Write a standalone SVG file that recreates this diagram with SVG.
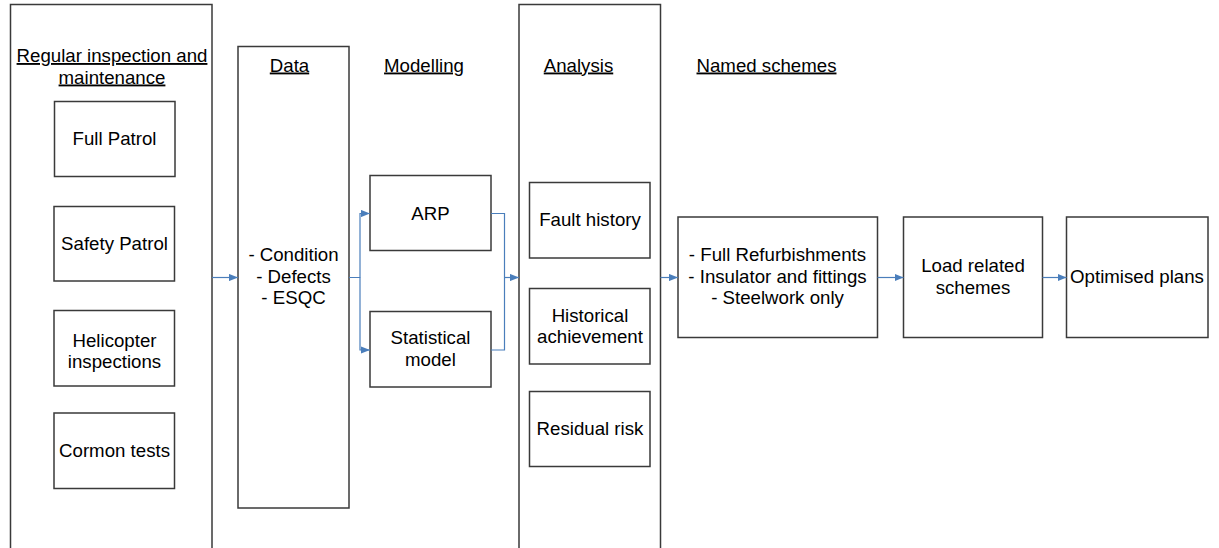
<svg xmlns="http://www.w3.org/2000/svg" width="1219" height="548" viewBox="0 0 1219 548">
<style>
.box{fill:#fff;stroke:#3a3a3a;stroke-width:1.5}
.t{font-family:"Liberation Sans",Arial,sans-serif;font-size:18.67px;fill:#000;text-anchor:middle}
.h{text-decoration:underline}
.c{fill:none;stroke:#4A7EBB;stroke-width:1.2}
</style>
<defs>
<marker id="ah" viewBox="0 0 10 8" refX="10" refY="4" markerWidth="9" markerHeight="7.2" markerUnits="userSpaceOnUse" orient="auto">
<path d="M0,0 L10,4 L0,8 z" fill="#4A7EBB"/>
</marker>
</defs>
<rect width="1219" height="548" fill="#fff"/>
<g id="regular">
<rect class="box" x="10.5" y="4.5" width="201.5" height="560"/>
<text class="t h" x="112" y="62">Regular inspection and</text>
<text class="t h" x="112" y="83.5">maintenance</text>
</g>
<g id="full-patrol">
<rect class="box" x="54.5" y="101.5" width="120.5" height="75"/>
<text class="t" x="114.5" y="145">Full Patrol</text>
</g>
<g id="safety-patrol">
<rect class="box" x="54" y="206.5" width="120.5" height="74.5"/>
<text class="t" x="114.5" y="249.5">Safety Patrol</text>
</g>
<g id="helicopter">
<rect class="box" x="54" y="310.5" width="120.5" height="75.5"/>
<text class="t" x="114.5" y="346.5">Helicopter</text>
<text class="t" x="114.5" y="368">inspections</text>
</g>
<g id="cormon">
<rect class="box" x="54" y="413" width="120.5" height="75.5"/>
<text class="t" x="114.5" y="456.5">Cormon tests</text>
</g>
<g id="data">
<rect class="box" x="238" y="46.5" width="111" height="461.5"/>
<text class="t h" x="289.5" y="71.5">Data</text>
<text class="t" x="293.5" y="260.5">- Condition</text>
<text class="t" x="293.5" y="282.5">- Defects</text>
<text class="t" x="293.5" y="304">- ESQC</text>
</g>
<g id="modelling">
<text class="t h" x="424" y="71.5">Modelling</text>
</g>
<g id="arp">
<rect class="box" x="370" y="175.5" width="121" height="75"/>
<text class="t" x="430.5" y="219.5">ARP</text>
</g>
<g id="statistical">
<rect class="box" x="370" y="311.5" width="121" height="75.5"/>
<text class="t" x="430.5" y="343.5">Statistical</text>
<text class="t" x="430.5" y="366">model</text>
</g>
<g id="analysis">
<rect class="box" x="519" y="4.5" width="141.5" height="560"/>
<text class="t h" x="578.5" y="71.5">Analysis</text>
</g>
<g id="fault-history">
<rect class="box" x="529.5" y="182.5" width="120.5" height="75.5"/>
<text class="t" x="590" y="226">Fault history</text>
</g>
<g id="historical">
<rect class="box" x="529.5" y="288.5" width="120.5" height="75.5"/>
<text class="t" x="590" y="321.5">Historical</text>
<text class="t" x="590" y="342.5">achievement</text>
</g>
<g id="residual">
<rect class="box" x="529.5" y="391.5" width="120.5" height="75"/>
<text class="t" x="590" y="434.5">Residual risk</text>
</g>
<g id="named-schemes-label">
<text class="t h" x="766.5" y="71.5">Named schemes</text>
</g>
<g id="named">
<rect class="box" x="678" y="217" width="199.5" height="120.5"/>
<text class="t" x="777.5" y="261">- Full Refurbishments</text>
<text class="t" x="777.5" y="282.5">- Insulator and fittings</text>
<text class="t" x="777.5" y="304">- Steelwork only</text>
</g>
<g id="load">
<rect class="box" x="903.5" y="217" width="139" height="120.5"/>
<text class="t" x="973" y="271.5">Load related</text>
<text class="t" x="973" y="293.5">schemes</text>
</g>
<g id="optimised">
<rect class="box" x="1066.5" y="217" width="141.5" height="120.5"/>
<text class="t" x="1137" y="283">Optimised plans</text>
</g>
<g id="connectors">
<path class="c" d="M212,277.5 H238" marker-end="url(#ah)"/>
<path class="c" d="M349,277.5 H360 V213.5 H370" marker-end="url(#ah)"/>
<path class="c" d="M360,277.5 V350 H370" marker-end="url(#ah)"/>
<path class="c" d="M491,213.5 H504.5 V350 H491"/>
<path class="c" d="M504.5,277.5 H519" marker-end="url(#ah)"/>
<path class="c" d="M660.5,277.5 H678" marker-end="url(#ah)"/>
<path class="c" d="M877.5,277.5 H903.5" marker-end="url(#ah)"/>
<path class="c" d="M1042.5,277.5 H1066.5" marker-end="url(#ah)"/>
</g>
</svg>
